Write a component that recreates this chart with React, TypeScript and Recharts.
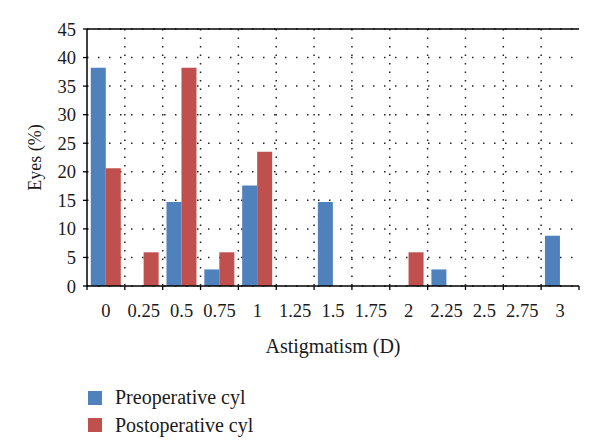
import React from 'react';
import {
  BarChart, Bar, XAxis, YAxis, CartesianGrid, ReferenceLine,
} from 'recharts';

const categories = ['0', '0.25', '0.5', '0.75', '1', '1.25', '1.5', '1.75', '2', '2.25', '2.5', '2.75', '3'];
const preoperative = [38.2, 0, 14.7, 2.9, 17.6, 0, 14.7, 0, 0, 2.9, 0, 0, 8.8];
const postoperative = [20.6, 5.9, 38.2, 5.9, 23.5, 0, 0, 0, 5.9, 0, 0, 0, 0];
const yTicks = [0, 5, 10, 15, 20, 25, 30, 35, 40, 45];

const seriesNames = ['Preoperative cyl', 'Postoperative cyl'];
const colors = ['#4F81BD', '#C0504D'];

const data = categories.map((c, i) => ({
  cat: c,
  pre: preoperative[i],
  post: postoperative[i],
}));

const FONT = '"Liberation Serif", "Times New Roman", serif';
const X_TICK_MARGIN = 18;

const XTick = (props: any) => {
  const { x, y, payload, index, width } = props;
  const half = payload && payload.offset ? payload.offset : width / (categories.length * 2);
  const axisY = y - X_TICK_MARGIN;
  return (
    <g>
      <line x1={x - half} x2={x - half} y1={axisY} y2={axisY + 4} stroke="#000" strokeWidth={1.3} />
      {index === categories.length - 1 && (
        <line x1={x + half} x2={x + half} y1={axisY} y2={axisY + 4} stroke="#000" strokeWidth={1.3} />
      )}
      <text x={x} y={y} dy="0.71em" textAnchor="middle" fill="#1a1a1a" fontSize={18.5} fontFamily={FONT}>
        {payload.value}
      </text>
    </g>
  );
};

export default function App() {
  return (
    <div style={{ position: 'absolute', left: 0, top: 0, width: 600, height: 441, background: '#fff' }}>
      <BarChart
        width={600}
        height={441}
        data={data}
        margin={{ top: 29, right: 21, bottom: 75, left: 17 }}
        barCategoryGap="10%"
        barGap={0}
      >
        <CartesianGrid
          horizontal={true}
          vertical={false}
          stroke="#222"
          strokeWidth={1.5}
          strokeDasharray="1.5 9.5"
        />
        <CartesianGrid
          horizontal={false}
          vertical={true}
          stroke="#222"
          strokeWidth={1.5}
          strokeDasharray="1.5 7"
          verticalCoordinatesGenerator={({ offset }: any) =>
            categories.slice(1).map((_, i) => offset.left + ((i + 1) * offset.width) / categories.length)
          }
        />
        <XAxis
          dataKey="cat"
          type="category"
          height={80}
          axisLine={{ stroke: '#000', strokeWidth: 1.5 }}
          tickLine={false}
          tickSize={0}
          tickMargin={X_TICK_MARGIN}
          interval={0}
          tick={<XTick />}
          label={{
            content: ({ viewBox }: any) => (
              <text
                x={viewBox.x + viewBox.width / 2}
                y={viewBox.y + 67}
                textAnchor="middle"
                fill="#1a1a1a"
                fontSize={20}
                fontFamily={FONT}
              >
                Astigmatism (D)
              </text>
            ),
          }}
        />
        <YAxis
          width={70}
          domain={[0, 45]}
          ticks={yTicks}
          interval={0}
          axisLine={{ stroke: '#000', strokeWidth: 1.5 }}
          tickLine={{ stroke: '#000', strokeWidth: 1.3 }}
          tickSize={4}
          tickMargin={7}
          tick={{ fill: '#1a1a1a', fontSize: 18.5, fontFamily: FONT }}
          label={{
            content: ({ viewBox }: any) => {
              const cx = viewBox.x + 18;
              const cy = viewBox.y + viewBox.height / 2;
              return (
                <text
                  x={cx}
                  y={cy}
                  transform={`rotate(-90 ${cx} ${cy})`}
                  textAnchor="middle"
                  dominantBaseline="central"
                  fill="#1a1a1a"
                  fontSize={18}
                  fontFamily={FONT}
                >
                  Eyes (%)
                </text>
              );
            },
          }}
        />
        <YAxis
          yAxisId="right"
          orientation="right"
          width={0}
          tick={false}
          tickLine={false}
          axisLine={{ stroke: '#000', strokeWidth: 1.5 }}
        />
        <ReferenceLine y={45} stroke="#000" strokeWidth={1.5} />
        <Bar dataKey="pre" name={seriesNames[0]} fill={colors[0]} isAnimationActive={false} />
        <Bar dataKey="post" name={seriesNames[1]} fill={colors[1]} isAnimationActive={false} />
      </BarChart>
      <div
        style={{
          position: 'absolute',
          left: 88,
          top: 384,
          fontFamily: FONT,
          fontSize: 20,
          color: '#1a1a1a',
        }}
      >
        {seriesNames.map((n, i) => (
          <div key={n} style={{ display: 'flex', alignItems: 'center', height: 27.5 }}>
            <span
              style={{ display: 'inline-block', width: 14, height: 14, background: colors[i], marginRight: 13 }}
            />
            <span>{n}</span>
          </div>
        ))}
      </div>
    </div>
  );
}
